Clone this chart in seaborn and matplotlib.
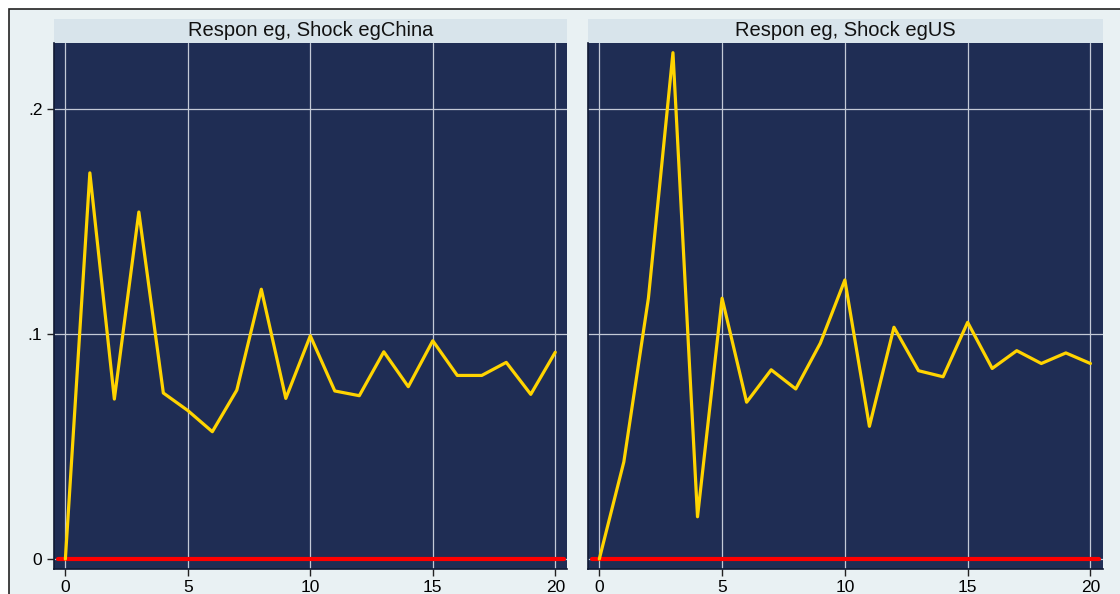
#!/usr/bin/env python3

import numpy as np
import pandas as pd
import matplotlib as mpl

mpl.use("Agg")

import matplotlib.pyplot as plt
import seaborn as sns
from matplotlib.patches import Rectangle

# impulse responses
steps = list(range(21))
resp_china = [0.0, 0.1716, 0.0711, 0.1542, 0.0738, 0.0660, 0.0566, 0.0751, 0.1199,
              0.0714, 0.0992, 0.0747, 0.0726, 0.0921, 0.0766, 0.0970, 0.0816, 0.0816,
              0.0874, 0.0732, 0.0919]
resp_us = [0.0, 0.0432, 0.1159, 0.2250, 0.0188, 0.1159, 0.0697, 0.0841, 0.0756,
           0.0959, 0.1240, 0.0590, 0.1030, 0.0837, 0.0810, 0.1052, 0.0847, 0.0926,
           0.0869, 0.0916, 0.0869]
titles = ["Respon eg, Shock egChina", "Respon eg, Shock egUS"]
x_ticks = [0, 5, 10, 15, 20]
y_ticks = [0, 0.1, 0.2]
y_ticklabels = ["0", ".1", ".2"]

data = pd.DataFrame({
    "step": steps * 2,
    "response": resp_china + resp_us,
    "panel": [titles[0]] * 21 + [titles[1]] * 21,
})

sns.set_theme(style="darkgrid")
plt.rcParams.update({
    "font.family": ["Liberation Sans", "DejaVu Sans"],
    "axes.facecolor": "#1f2d54",
    "figure.facecolor": "white",
    "grid.color": "#c3c9d6",
    "grid.linewidth": 0.9,
    "xtick.bottom": True,
    "ytick.left": True,
    "xtick.major.size": 5,
    "ytick.major.size": 5,
    "xtick.major.width": 1.0,
    "ytick.major.width": 1.0,
    "xtick.color": "#222222",
    "ytick.color": "#222222",
})

fig = plt.figure(figsize=(11.2, 5.94), dpi=100)

# outer frame (stata-style graph region), kept behind the panels
fig.patches.append(Rectangle((9 / 1120, -0.1), 1.2, 1.1 - 9 / 594,
                             transform=fig.transFigure, facecolor="#e9f1f3",
                             edgecolor="#222222", linewidth=1.2, zorder=-10))

H = 569 - 43
positions = [(53.6, 513.9), (587.5, 515.2)]
axes = []
for i, (x0, w) in enumerate(positions):
    ax = fig.add_axes([x0 / 1120, 1 - 569 / 594, w / 1120, H / 594])
    axes.append(ax)
    sub = data[data["panel"] == titles[i]]
    ax.axhline(0, xmin=0.008, xmax=0.993, color="#ff0000", linewidth=3.0, zorder=3)
    sns.lineplot(data=sub, x="step", y="response", ax=ax, color="#ffd400",
                 linewidth=2.3, zorder=4)
    ax.set_xlim(-0.48, 20.5)
    ax.set_ylim(-0.0044, 0.2293)
    ax.set_xticks(x_ticks)
    ax.set_yticks(y_ticks)
    ax.set_xlabel("")
    ax.set_ylabel("")
    ax.tick_params(axis="both", labelsize=12.5, labelcolor="black", pad=3)
    if i == 0:
        ax.set_yticklabels(y_ticklabels)
    else:
        ax.set_yticklabels([])
        ax.tick_params(axis="y", left=False)
    for side in ["left", "bottom"]:
        ax.spines[side].set_visible(True)
        ax.spines[side].set_color("#111a33")
        ax.spines[side].set_linewidth(1.2)
    for side in ["top", "right"]:
        ax.spines[side].set_visible(False)
    # strip title
    strip_h = 24 / H
    ax.add_patch(Rectangle((0, 1), 1, strip_h, transform=ax.transAxes,
                           facecolor="#d8e4eb", edgecolor="none", clip_on=False))
    ax.text(0.5, 1 + strip_h / 2, titles[i], transform=ax.transAxes,
            ha="center", va="center", fontsize=14.5, color="#111111")

plt.savefig("out.png", dpi=100)
